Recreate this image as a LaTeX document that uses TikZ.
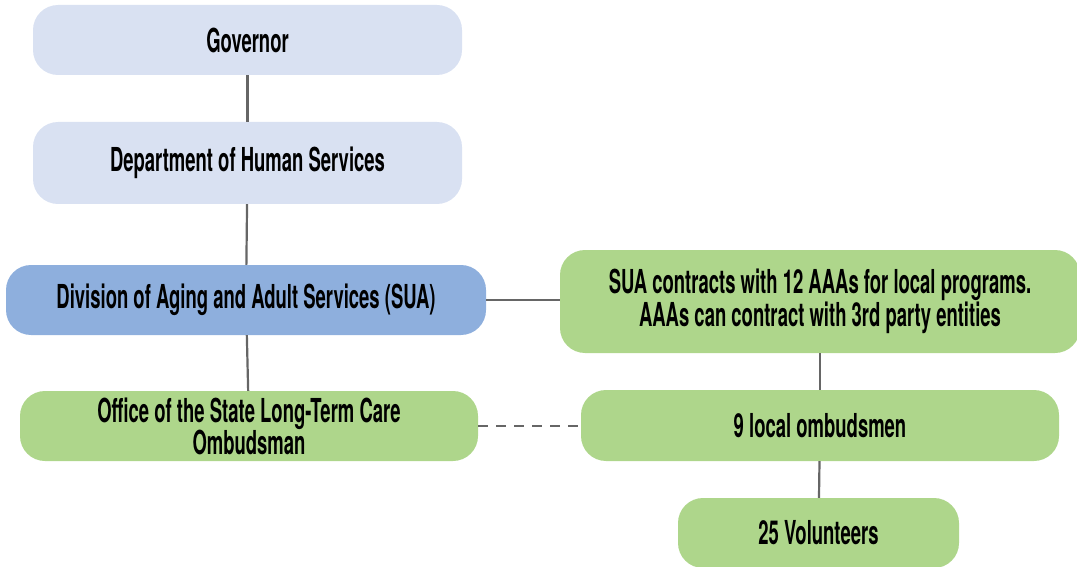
\documentclass[tikz,border=0pt]{standalone}
\usepackage{fontspec}
\setmainfont{TeX Gyre Heros}[FakeStretch=0.56]
\usetikzlibrary{positioning}
\definecolor{paleblue}{HTML}{D9E1F2}
\definecolor{midblue}{HTML}{8EAFDD}
\definecolor{leafgreen}{HTML}{AED68B}
\definecolor{linkgray}{HTML}{666666}
\begin{document}
\begin{tikzpicture}[x=1pt,y=1pt,line join=round,
	every node/.style={font=\bfseries\fontsize{33}{34}\selectfont,align=center},
	orgbox/.style={rounded corners=25pt,inner sep=0pt},
	link/.style={draw=linkgray,line width=2.2pt}]
	\useasboundingbox (0,0) rectangle (1077,-567);
	% left column
	\node[orgbox,fill=paleblue,minimum width=429pt,minimum height=70pt] (gov) at (247.5,-40) {Governor};
	\node[orgbox,fill=paleblue,minimum width=429pt,minimum height=82pt] (dhs) at (247.5,-163) {Department of Human Services};
	\node[orgbox,fill=midblue,minimum width=480pt,minimum height=70pt] (sua) at (246,-300) {Division of Aging and Adult Services (SUA)};
	\node[orgbox,fill=leafgreen,minimum width=458pt,minimum height=70pt] (office) at (249,-426) {Office of the State Long-Term Care\\[-2pt]Ombudsman};
	% right column
	\node[orgbox,fill=leafgreen,minimum width=520pt,minimum height=103pt] (aaa) at (820,-301.5) {SUA contracts with 12 AAAs for local programs.\\[-1pt]AAAs can contract with 3rd party entities};
	\node[orgbox,fill=leafgreen,minimum width=478pt,minimum height=71pt] (local) at (820,-425.5) {9 local ombudsmen};
	\node[orgbox,fill=leafgreen,minimum width=281pt,minimum height=70pt] (vol) at (818.5,-533) {25 Volunteers};
	% connectors
	\draw[link] (gov) -- (dhs);
	\draw[link] (dhs) -- (sua);
	\draw[link] (sua) -- (office);
	\draw[link] (sua.east) -- (sua.east -| aaa.west);
	\draw[link] (aaa.south -| local.north) -- (local.north);
	\draw[link] (local) -- (vol);
	\draw[link,dash pattern=on 10pt off 8pt] (office.east) -- (office.east -| local.west);
\end{tikzpicture}
\end{document}
